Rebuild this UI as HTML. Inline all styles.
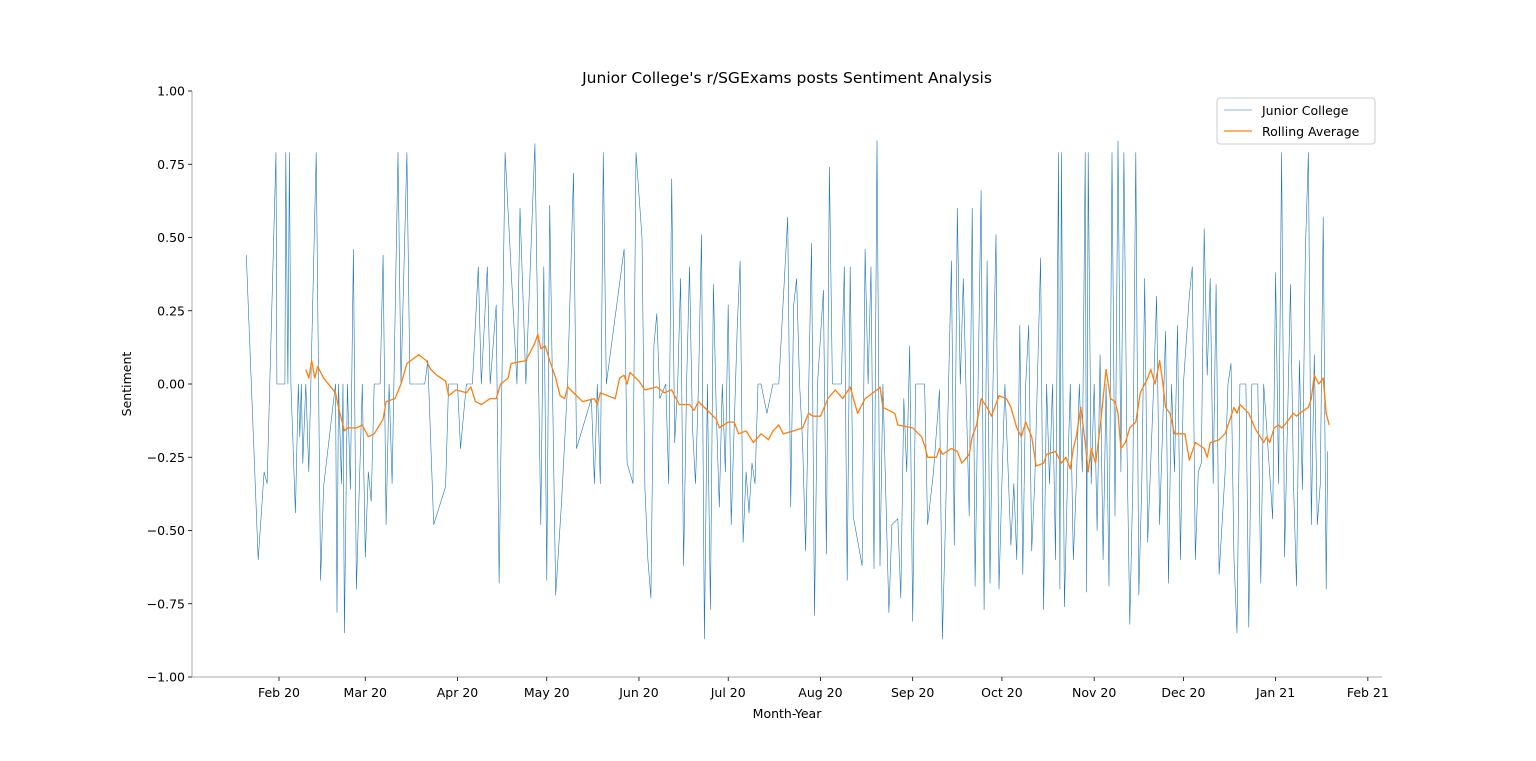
<!DOCTYPE html>
<html><head><meta charset="utf-8">
<style>
html,body{margin:0;padding:0;background:#fff;}
svg{display:block;font-family:"DejaVu Sans","Liberation Sans",sans-serif;}
</style></head>
<body>
<svg id="chart" width="1536" height="761" viewBox="0 0 1536 761" xmlns="http://www.w3.org/2000/svg">
<rect width="1536" height="761" fill="#fff"/>
<text x="787" y="83" font-size="15.5" text-anchor="middle" fill="#000">Junior College's r/SGExams posts Sentiment Analysis</text>
<g id="axes"></g>
<g id="series"></g>
<text x="787" y="718" font-size="12.5" text-anchor="middle" fill="#000">Month-Year</text>
<text transform="translate(131,384) rotate(-90)" font-size="12.5" text-anchor="middle" fill="#000">Sentiment</text>
<g>
<rect x="1217" y="98" width="158" height="46" rx="3" fill="#fff" stroke="#ccc" stroke-width="1"/>
<line x1="1224" y1="110" x2="1252" y2="110" stroke="#1f77b4" stroke-width="0.6"/>
<text x="1262" y="115" font-size="12.5" fill="#000">Junior College</text>
<line x1="1224" y1="131" x2="1252" y2="131" stroke="#ff7f0e" stroke-width="1.2"/>
<text x="1262" y="136" font-size="12.5" fill="#000">Rolling Average</text>
</g>
</svg>
<script>
// days since 2020-02-01
const rawDays = [-11,-7,-5,-4,-1,-0.7,2,2.3,3,3.5,4,5.5,6.5,7,7.5,8,9,10,12.5,14,15,19,19.5,20,21,21.5,22,23,24,25,26,28,29,30,31,32,34,35,36,37,38,40,41,43,44,49,50,52,56,57,60,61,63,65,67,68,70,71,73,74,76,80,81,83,86,88,89,90,91,93,95,97,99,100,105,106,107,108,109,110,116,117,119,120,122,123,124,125,126,127,128,130,131,132,133,134,135,136,137,138,139,140,141,142,143,144,145,146,147,148,149,150,151,152,154,155,156,157,158,159,160,161,162,164,166,168,171,172,173,174,175,176,177,179,180,181,183,184,185,186,189,190,191,192,193,196,197,198,199,200,201,202,203,205,206,208,209,210,211,212,213,214,217,218,220,222,223,224,226,227,228,229,230,232,233,234,235,236,237,238,239,240,241,242,243,244,246,247,248,249,250,251,252,253,254,256,257,258,259,260,261,262,262.5,263,264,265,266,267,268,269,270,271,271.5,272,273,274,275,276,277,278,279,280,281,282,283,284,285,286,287,288,289,290,291,292,294,295,296,298,299,300,301,302,303,304,306,307,308,309,310,311,312,313,314,315,316,318,319,320,321,322,323,325,326,327,329,330,331,334,335,336,337,338,340,341,342,343,344,345,346,347,348,349,350,351,352,352.5];
const rawVals = [.44,-.6,-.3,-.34,.79,0,0,.79,0,.79,0,-.44,0,-.18,0,-.27,0,-.3,.79,-.67,-.35,0,-.78,0,-.34,0,-.85,0,-.36,.46,-.7,0,-.59,-.3,-.4,0,0,.44,-.48,0,-.34,.79,0,.79,0,0,.08,-.48,-.35,0,0,-.22,0,0,.4,0,.4,0,.27,-.68,.79,0,.6,0,.82,-.48,.4,-.67,.61,-.72,-.4,0,.72,-.22,-.05,-.34,0,-.34,.79,0,.46,-.27,-.34,.79,.5,-.35,-.6,-.73,.13,.24,-.05,0,-.34,.7,-.2,0,.36,-.62,0,.4,-.15,-.34,0,.51,-.87,0,-.77,.34,-.1,-.42,0,-.3,.27,-.48,.19,.42,-.54,-.3,-.44,-.27,-.34,0,0,-.1,0,0,.57,-.42,.27,.36,0,-.2,-.57,.48,-.79,0,.32,-.58,.74,0,0,.4,-.67,.4,-.45,-.62,.46,0,.4,-.63,.83,-.62,0,-.78,-.48,-.46,-.73,-.05,-.3,.13,-.81,0,0,-.48,-.3,-.02,-.87,-.48,.42,-.55,.6,0,.36,-.45,.6,-.69,0,.66,-.77,.42,-.68,0,.51,-.7,-.34,0,-.55,-.34,-.6,.2,-.65,0,.2,-.57,-.34,.43,-.77,0,-.34,0,-.6,.79,-.7,.79,-.76,-.34,0,-.6,-.34,0,-.3,.79,-.71,.79,-.34,0,-.5,.1,-.6,0,-.69,.79,-.45,.83,-.3,.79,-.2,-.82,-.34,.79,-.72,-.34,.36,-.54,0,.3,-.48,.18,-.68,0,-.3,.2,-.6,0,.3,.4,-.6,-.3,-.27,.53,.03,.36,-.34,.34,-.65,-.3,0,.07,-.6,-.85,0,0,-.83,0,0,-.68,0,-.46,.38,-.34,.79,-.59,.34,-.34,-.69,.08,-.36,.46,.79,-.48,.1,-.48,-.34,.57,-.7,-.23];
const rollDays = [9,10,11,12,13,15,19,20,21,22,23,26,28,30,32,35,36,39,41,43,47,49.5,51,53,56,57,59.5,63,64.5,66,68,71,73,74.5,77,78,83,86,87,88,89.5,91,93,94.5,96,97,101,102,106,107,108,113,114.5,116,117,118,121,123,127,129.5,132,134.5,138,139.5,141,143,147,148,151,153,154.5,157,159.5,162,164.5,166,168,169.5,173,176,178,179.5,182,184.5,187,189.5,192,194.5,197,201,202,203,207,208,213,216,217,218,221,222,223,226,228,229.5,232,233,234.5,236,238,239.5,242,244.5,246,248,249.5,251,253,254.5,257,258,261,263,264.5,266,267,268,269.5,271,272,273,274.5,276,277,278,279.5,281,282,283,284.5,286,288,289.5,292,293,294.5,296,297,298,299.5,301,304.5,306,307,308,309.5,311,312,313,316,318,321,322,323,326,328,331,332,333,334.5,336,337,338,341,342,343,346,347,348,349.5,351,352,353];
const rollVals = [.05,.02,.08,.02,.06,.02,-.03,-.08,-.12,-.16,-.15,-.15,-.14,-.18,-.17,-.12,-.06,-.05,0,.07,.1,.08,.05,.03,.01,-.04,-.02,-.03,-.01,-.06,-.07,-.05,-.05,0,.02,.07,.08,.14,.17,.12,.13,.08,.02,-.04,-.05,-.01,-.05,-.06,-.05,-.07,-.03,-.05,.02,.03,0,.04,.01,-.02,-.01,-.03,-.02,-.07,-.07,-.09,-.06,-.08,-.12,-.15,-.13,-.13,-.17,-.16,-.2,-.17,-.19,-.16,-.14,-.17,-.16,-.15,-.1,-.11,-.11,-.05,-.02,-.05,-.01,-.1,-.05,-.02,-.01,-.08,-.1,-.14,-.15,-.18,-.21,-.25,-.25,-.22,-.24,-.22,-.23,-.27,-.24,-.18,-.14,-.05,-.08,-.11,-.04,-.05,-.08,-.15,-.18,-.13,-.18,-.28,-.27,-.24,-.23,-.27,-.25,-.29,-.22,-.18,-.08,-.2,-.3,-.22,-.27,-.15,-.05,.05,-.05,-.06,-.1,-.22,-.2,-.15,-.13,-.03,.02,.05,0,.08,.01,-.08,-.1,-.17,-.17,-.26,-.23,-.2,-.21,-.22,-.25,-.2,-.19,-.17,-.08,-.1,-.07,-.1,-.15,-.2,-.18,-.2,-.15,-.14,-.15,-.14,-.1,-.11,-.1,-.08,-.05,.03,0,.02,-.1,-.14];
const yTicks = [-1,-0.75,-0.5,-0.25,0,0.25,0.5,0.75,1];
const xTickLabels = ["Feb 20","Mar 20","Apr 20","May 20","Jun 20","Jul 20","Aug 20","Sep 20","Oct 20","Nov 20","Dec 20","Jan 21","Feb 21"];
const xTickDays = [0,29,60,90,121,151,182,213,243,274,304,335,366];

const NS="http://www.w3.org/2000/svg";
const X0=279, PXD=2.975, Y0=384, PYU=293;
const xs=d=>X0+d*PXD;
const ys=v=>Y0-v*PYU;
const axes=document.getElementById('axes'), series=document.getElementById('series');
function mk(tag,attrs,parent){const e=document.createElementNS(NS,tag);for(const k in attrs)e.setAttribute(k,attrs[k]);parent.appendChild(e);return e;}

let sp=mk('line',{x1:192,y1:91,x2:192,y2:677,stroke:'#aaa','stroke-width':1},axes);


sp=mk('line',{x1:192,y1:677,x2:1382,y2:677,stroke:'#aaa','stroke-width':1},axes);



yTicks.forEach(v=>{
  const y=ys(v);
  mk('line',{x1:188,y1:y,x2:192,y2:y,stroke:'#000','stroke-width':0.8},axes);
  const t=mk('text',{x:185,y:y+4.5,'font-size':12.5,'text-anchor':'end',fill:'#000'},axes);
  t.textContent=v.toFixed(2).replace('-','\u2212');
  
  
});
xTickDays.forEach((d,i)=>{
  const x=xs(d);
  mk('line',{x1:x,y1:677,x2:x,y2:681,stroke:'#000','stroke-width':0.8},axes);
  const t=mk('text',{x:x,y:697,'font-size':12.5,'text-anchor':'middle',fill:'#000'},axes);
  t.textContent=xTickLabels[i];
  
  
});

const p1=mk('polyline',{points:rawDays.map((d,i)=>xs(d).toFixed(1)+','+ys(rawVals[i]).toFixed(1)).join(' '),fill:'none',stroke:'#1f77b4','stroke-width':0.6,'stroke-linejoin':'round'},series);


const p2=mk('polyline',{points:rollDays.map((d,i)=>xs(d).toFixed(1)+','+ys(rollVals[i]).toFixed(1)).join(' '),fill:'none',stroke:'#ff7f0e','stroke-width':1.3,'stroke-linejoin':'round'},series);


</script>
</body></html>
